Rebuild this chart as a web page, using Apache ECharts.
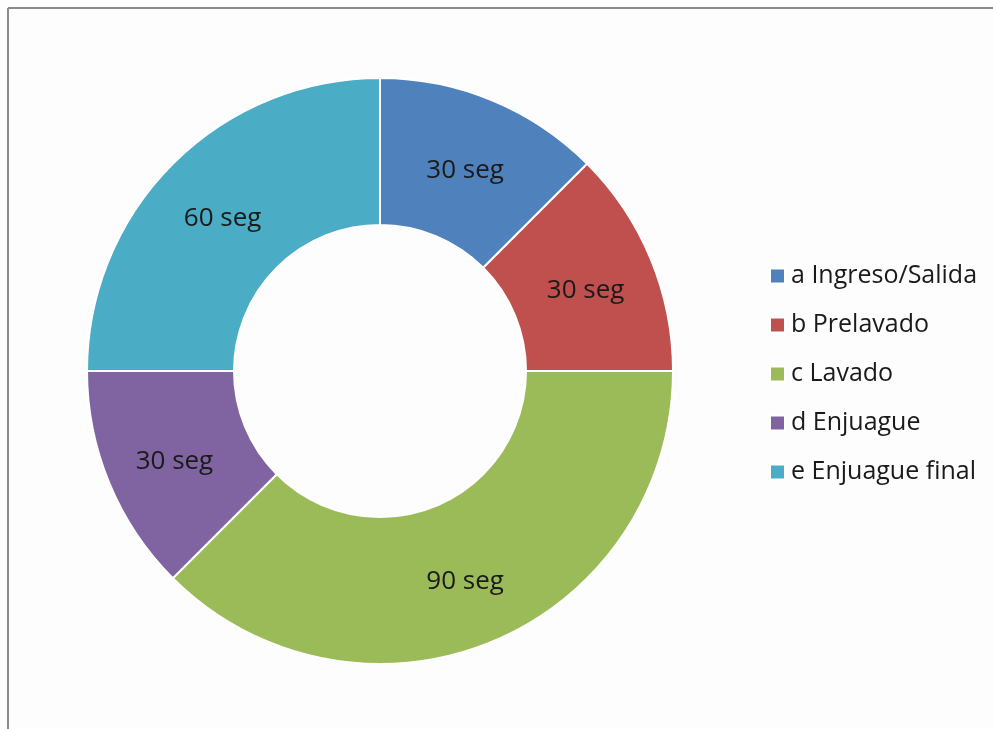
<!DOCTYPE html>
<html>
<head>
<meta charset="utf-8">
<script src="https://cdn.jsdelivr.net/npm/echarts@6/dist/echarts.min.js"></script>
<style>
  html, body { margin: 0; padding: 0; background: #ffffff; }
  #chart { width: 993px; height: 729px; }
</style>
</head>
<body>
<div id="chart"></div>
<script>
// Wash cycle phases and their durations (seconds)
const phases = ['a Ingreso/Salida', 'b Prelavado', 'c Lavado', 'd Enjuague', 'e Enjuague final'];
const durations = [30, 30, 90, 30, 60];
const phaseColors = ['#4F81BD', '#C0504D', '#9BBB59', '#8064A2', '#4BACC6'];

const fontFamily = '"Open Sans", "Noto Sans", sans-serif';

const chart = echarts.init(document.getElementById('chart'), null, { renderer: 'canvas' });

chart.setOption({
  backgroundColor: '#fdfdfd',
  animation: false,
  color: phaseColors,
  legend: {
    orient: 'vertical',
    left: 764,
    top: 258,
    itemWidth: 15,
    itemHeight: 15,
    itemGap: 23,
    icon: 'rect',
    data: phases,
    textStyle: {
      fontFamily: fontFamily,
      fontSize: 25,
      color: '#1a1a1a',
      lineHeight: 26,
      padding: [0, 0, 0, 1]
    }
  },
  graphic: [
    { type: 'line', shape: { x1: 8, y1: 8, x2: 993, y2: 8 }, style: { stroke: '#8a8a8a', lineWidth: 2 } },
    { type: 'line', shape: { x1: 8, y1: 8, x2: 8, y2: 729 }, style: { stroke: '#8a8a8a', lineWidth: 2 } }
  ],
  series: [{
    type: 'pie',
    center: [380, 371],
    radius: [146, 293],
    startAngle: 90,
    clockwise: true,
    avoidLabelOverlap: false,
    itemStyle: { borderColor: '#ffffff', borderWidth: 2 },
    label: {
      show: true,
      position: 'inside',
      formatter: p => p.value + ' seg',
      fontFamily: fontFamily,
      fontSize: 26,
      color: '#1a1a1a'
    },
    labelLayout: params => ({ dy: 5 }),
    labelLine: { show: false },
    emphasis: { disabled: true },
    data: phases.map((name, i) => ({ name: name, value: durations[i] }))
  }]
});
</script>
</body>
</html>
